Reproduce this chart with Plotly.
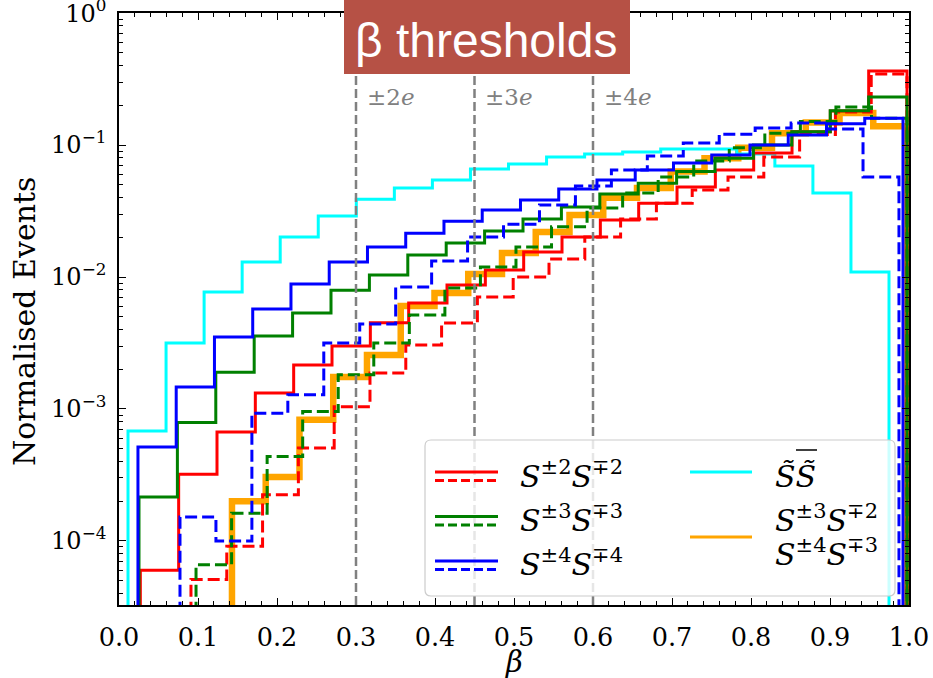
import numpy as np
import plotly.graph_objects as go

# ---------------- data ----------------
# each histogram: 20 equal bins between its own (start, end) in beta,
# values = normalised event fraction per bin
cyan_range = (0.0114, 0.9747)
cyan_vals = [6.8e-4, 3.16e-3, 7.7e-3, 0.0130, 0.0201, 0.0290, 0.0389, 0.0472, 0.0543, 0.0658,
             0.0718, 0.0813, 0.0855, 0.0885, 0.0933, 0.0933, 0.0855, 0.0693, 0.0433, 0.0109]

red_range = (0.027, 0.9975)
red_vals = [6.0e-5, 3.2e-4, 6.7e-4, 1.32e-3, 2.15e-3, 3.0e-3, 4.5e-3, 6.35e-3, 8.7e-3, 0.0113,
            0.0155, 0.0201, 0.0270, 0.0363, 0.0481, 0.0646, 0.0871, 0.126, 0.181, 0.364]

red_d_range = (0.0911, 0.9975)
red_d_vals = [5.1e-5, 9.1e-5, 2.24e-4, 5.07e-4, 1.04e-3, 1.87e-3, 3.05e-3, 4.49e-3, 7.05e-3, 0.0100,
              0.0137, 0.0201, 0.0275, 0.0363, 0.0456, 0.0573, 0.0813, 0.120, 0.178, 0.345]

green_range = (0.0253, 0.9975)
green_vals = [2.15e-4, 7.9e-4, 1.9e-3, 3.57e-3, 5.33e-3, 7.94e-3, 0.01035, 0.0147, 0.0181, 0.0223,
              0.0275, 0.0339, 0.0426, 0.0513, 0.0631, 0.0794, 0.100, 0.126, 0.182, 0.231]

green_d_range = (0.0975, 0.9975)
green_d_vals = [6.6e-5, 1.62e-4, 4.37e-4, 9.55e-4, 1.82e-3, 3.16e-3, 5.15e-3, 8.26e-3, 0.0119, 0.0169,
                0.0240, 0.0333, 0.0433, 0.0573, 0.0757, 0.0955, 0.123, 0.151, 0.194, 0.160]

blue_range = (0.024, 0.9924)
blue_vals = [5.15e-4, 1.47e-3, 3.51e-3, 5.73e-3, 8.85e-3, 0.0130, 0.0169, 0.0215, 0.0265, 0.0322,
             0.0383, 0.0465, 0.0543, 0.0646, 0.0731, 0.0839, 0.100, 0.119, 0.145, 0.160]

blue_d_range = (0.0772, 0.9873)
blue_d_vals = [1.52e-4, 1.0e-4, 9.3e-4, 1.28e-3, 3.16e-3, 4.4e-3, 8.4e-3, 0.0132, 0.0201, 0.0251,
               0.0351, 0.0489, 0.0646, 0.0826, 0.1035, 0.121, 0.1346, 0.1469, 0.1321, 0.0573]

orange_range = (0.143, 0.9975)
orange_vals = [2.0e-4, 3.05e-4, 8.3e-4, 1.75e-3, 2.57e-3, 6.03e-3, 7.57e-3, 0.01054, 0.0152, 0.0219,
               0.0295, 0.0398, 0.0472, 0.0631, 0.0794, 0.0955, 0.123, 0.148, 0.175, 0.139]

thresholds = [0.30, 0.45, 0.60]
threshold_labels = ["±2<i>e</i>", "±3<i>e</i>", "±4<i>e</i>"]

x_ticks = [round(0.1 * i, 1) for i in range(11)]
x_ticktext = [f"{v:.1f}" for v in x_ticks]
y_ticks = [1e-4, 1e-3, 1e-2, 1e-1, 1.0]
y_ticktext = ["10<sup>−4</sup>", "10<sup>−3</sup>", "10<sup>−2</sup>", "10<sup>−1</sup>", "10<sup>0</sup>"]
Y_MIN = 3.27e-5
FLOOR = 1e-7

# ---------------- helpers ----------------
W, H = 933, 678
PL, PR, PT, PB = 119, 909, 13, 605


def fx(px):
    return (px - PL) / (PR - PL)


def fy(py):
    return (PB - py) / (PB - PT)


def step_xy(rng, vals):
    edges = np.linspace(rng[0], rng[1], len(vals) + 1)
    x = np.concatenate([[edges[0]], edges])
    y = np.concatenate([[FLOOR], np.asarray(vals, float), [FLOOR]])
    return x, y


SERIF = "DejaVu Serif"
fig = go.Figure()

series = [
    (orange_range, orange_vals, "orange", 6.5, "solid"),
    (cyan_range, cyan_vals, "cyan", 3, "solid"),
    (red_range, red_vals, "red", 3, "solid"),
    (red_d_range, red_d_vals, "red", 3, "12px,5px"),
    (green_range, green_vals, "green", 3, "solid"),
    (green_d_range, green_d_vals, "green", 3, "12px,5px"),
    (blue_range, blue_vals, "blue", 3, "solid"),
    (blue_d_range, blue_d_vals, "blue", 3, "12px,5px"),
]
for rng, vals, col, lw, dash in series:
    x, y = step_xy(rng, vals)
    fig.add_trace(go.Scatter(x=x, y=y, mode="lines", line=dict(color=col, width=lw, dash=dash, shape="hv"),
                             showlegend=False, hoverinfo="skip"))

shapes = []
annotations = []

# threshold lines
for t, lab in zip(thresholds, threshold_labels):
    shapes.append(dict(type="line", xref="x", yref="paper", x0=t, x1=t, y0=0, y1=1, layer="above",
                       line=dict(color="gray", width=2.5, dash="9px,4px")))
    annotations.append(dict(xref="x", yref="paper", x=t + 0.011, y=fy(97), text=lab, showarrow=False,
                            xanchor="left", yanchor="middle", font=dict(family=SERIF, size=23, color="gray")))

# title box
shapes.append(dict(type="rect", xref="paper", yref="paper", x0=fx(344), x1=fx(630), y0=fy(74), y1=fy(-2),
                   fillcolor="#B65145", line=dict(width=0), layer="above"))
annotations.append(dict(xref="paper", yref="paper", x=fx(486), y=fy(40), text="β thresholds", showarrow=False,
                        xanchor="center", yanchor="middle",
                        font=dict(family="Liberation Sans", size=48, color="white")))

# legend frame (rounded)
lx0, lx1, ly0, ly1, r = 425, 895, 440, 596, 6


def P(px, py):
    return f"{fx(px):.5f},{fy(py):.5f}"


path = (f"M {P(lx0 + r, ly0)} L {P(lx1 - r, ly0)} Q {P(lx1, ly0)} {P(lx1, ly0 + r)} "
        f"L {P(lx1, ly1 - r)} Q {P(lx1, ly1)} {P(lx1 - r, ly1)} L {P(lx0 + r, ly1)} "
        f"Q {P(lx0, ly1)} {P(lx0, ly1 - r)} L {P(lx0, ly0 + r)} Q {P(lx0, ly0)} {P(lx0 + r, ly0)} Z")
shapes.append(dict(type="path", xref="paper", yref="paper", path=path, layer="above",
                   fillcolor="rgba(255,255,255,0.8)", line=dict(color="#cccccc", width=1.2)))


def legline(x0, x1, y, col, w, dash):
    shapes.append(dict(type="line", xref="paper", yref="paper", x0=fx(x0), x1=fx(x1), y0=fy(y), y1=fy(y),
                       layer="above", line=dict(color=col, width=w, dash=dash)))


leg_font = dict(family=SERIF, size=30, color="black")
for col, ys, yd, lab_y, txt in [
    ("red", 472, 480.5, 474, "<i>S</i><sup>±2</sup><i>S</i><sup>∓2</sup>"),
    ("green", 516.5, 525, 518, "<i>S</i><sup>±3</sup><i>S</i><sup>∓3</sup>"),
    ("blue", 561, 569.5, 562, "<i>S</i><sup>±4</sup><i>S</i><sup>∓4</sup>"),
]:
    legline(435, 498, ys, col, 3, "solid")
    legline(435, 498, yd, col, 3, "9px,4px")
    annotations.append(dict(xref="paper", yref="paper", x=fx(518), y=fy(lab_y), text=txt, showarrow=False,
                            xanchor="left", yanchor="middle", font=leg_font))

legline(690, 752, 472, "cyan", 3, "solid")
annotations.append(dict(xref="paper", yref="paper", x=fx(773), y=fy(476), text="<i>S\u0303S\u0303</i>",
                        showarrow=False, xanchor="left", yanchor="middle", font=leg_font))
shapes.append(dict(type="line", xref="paper", yref="paper", x0=fx(796), x1=fx(817), y0=fy(450), y1=fy(450),
                   layer="above", line=dict(color="black", width=1.5)))
legline(690, 752, 537, "orange", 3, "solid")
annotations.append(dict(xref="paper", yref="paper", x=fx(773), y=fy(518),
                        text="<i>S</i><sup>±3</sup><i>S</i><sup>∓2</sup>", showarrow=False,
                        xanchor="left", yanchor="middle", font=leg_font))
annotations.append(dict(xref="paper", yref="paper", x=fx(773), y=fy(552),
                        text="<i>S</i><sup>±4</sup><i>S</i><sup>∓3</sup>", showarrow=False,
                        xanchor="left", yanchor="middle", font=leg_font))

# axis titles
annotations.append(dict(xref="paper", yref="paper", x=fx(24), y=fy(322), text="Normalised Events",
                        textangle=-90, showarrow=False, xanchor="center", yanchor="middle",
                        font=dict(family=SERIF, size=30, color="black")))
annotations.append(dict(xref="paper", yref="paper", x=fx(514), y=fy(662), text="<i>β</i>",
                        showarrow=False, xanchor="center", yanchor="middle",
                        font=dict(family=SERIF, size=29, color="black")))

y_minor = [m * 10.0 ** e for e in range(-5, 0) for m in range(2, 10) if m * 10.0 ** e >= Y_MIN]
x_minor = [round(0.02 * i, 2) for i in range(51)]

axis_common = dict(showline=True, linecolor="black", linewidth=1.6, mirror="allticks", ticks="inside",
                   ticklen=7, tickwidth=1.2, tickcolor="black", showgrid=False, zeroline=False,
                   automargin=False, ticklabeloverflow="allow")

fig.update_layout(
    width=W, height=H,
    margin=dict(l=PL, r=W - PR, t=PT, b=H - PB, autoexpand=False),
    plot_bgcolor="white", paper_bgcolor="white",
    showlegend=False,
    shapes=shapes, annotations=annotations,
    xaxis=dict(range=[0, 1], tickmode="array", tickvals=x_ticks, ticktext=x_ticktext,
               ticklabelstandoff=9, tickfont=dict(family=SERIF, size=25.5, color="black"),
               minor=dict(ticks="inside", ticklen=4, tickwidth=1, tickcolor="black",
                          tickmode="array", tickvals=x_minor, showgrid=False),
               **axis_common),
    yaxis=dict(type="log", range=[np.log10(Y_MIN), 0.0008], tickmode="array", tickvals=y_ticks,
               ticktext=y_ticktext, ticklabelstandoff=6, tickfont=dict(family=SERIF, size=24, color="black"),
               minor=dict(ticks="inside", ticklen=4, tickwidth=1, tickcolor="black",
                          tickmode="array", tickvals=y_minor, showgrid=False),
               **axis_common),
)

fig.write_html("out.html")
